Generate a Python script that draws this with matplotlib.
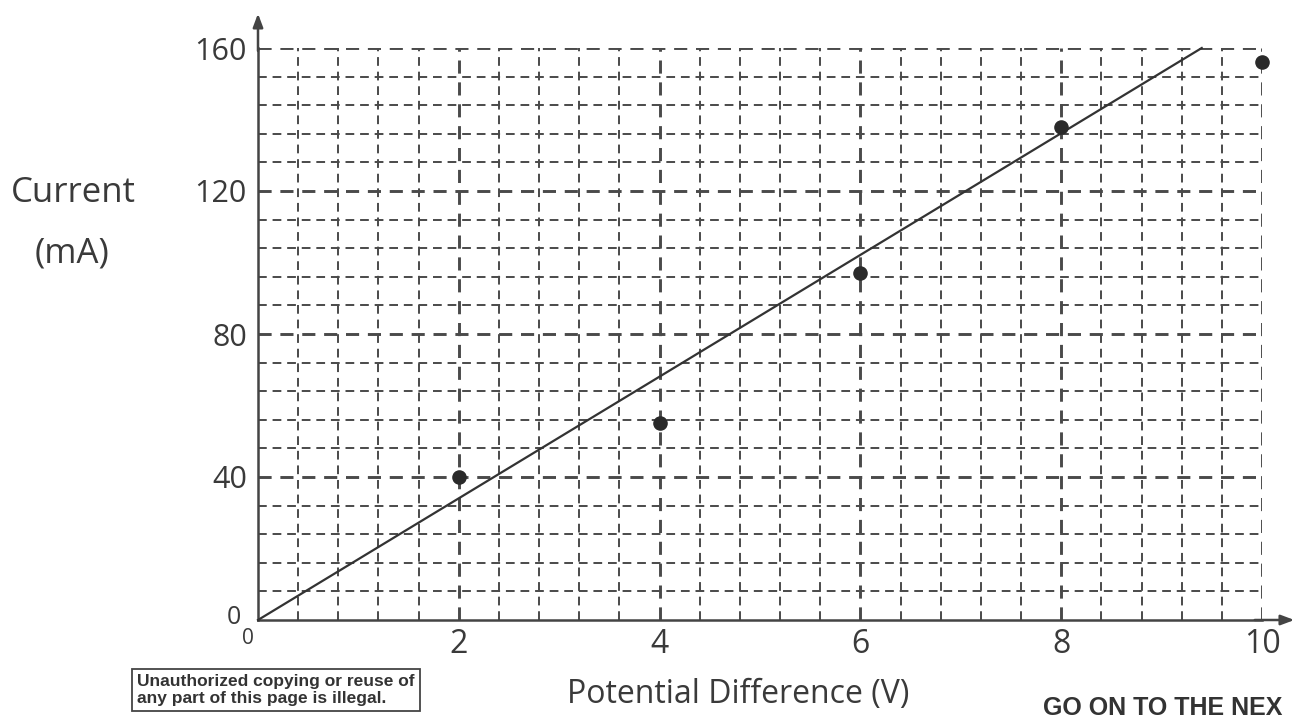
import numpy as np
import matplotlib
matplotlib.use("Agg")
import matplotlib.pyplot as plt

# ---- data ----
voltage = [2, 4, 6, 8, 10]
current = [40, 55, 97, 138, 156]
fit_x = [0, 9.4]
fit_y = [0, 160]
x_ticks = [2, 4, 6, 8, 10]
x_tick_labels = ["2", "4", "6", "8", "10"]
y_ticks = [40, 80, 120, 160]
y_tick_labels = ["40", "80", "120", "160"]

W, H = 1297, 722
fig = plt.figure(figsize=(W / 100, H / 100), dpi=100)
fig.patch.set_facecolor("white")

x0, x1 = 258, 1262
y0, y1 = 620, 48
ax = fig.add_axes([x0 / W, 1 - y0 / H, (x1 - x0) / W, (y0 - y1) / H])
ax.set_xlim(0, 10)
ax.set_ylim(0, 160)
ax.set_facecolor("white")

hand = dict(family=["Open Sans", "DejaVu Sans"], color="#3a3a3a")

# grid
gc = "#4a4a4a"
dash = (0, (4.5, 3))
for v in np.arange(0.4, 10.001, 0.4):
    major = abs(v / 2 - round(v / 2)) < 1e-6
    ax.axvline(v, color=gc, lw=2.1 if major else 1.4, ls=dash, zorder=1)
for v in np.arange(8, 160.001, 8):
    major = abs(v / 40 - round(v / 40)) < 1e-6
    ax.axhline(v, color=gc, lw=2.1 if major else 1.4, ls=dash, zorder=1)

for s in ["top", "right"]:
    ax.spines[s].set_visible(False)
for s in ["left", "bottom"]:
    ax.spines[s].set_color("#444444")
    ax.spines[s].set_linewidth(1.8)

# arrows on axes
ax.annotate("", xy=(0, 1.065), xytext=(0, 0.99), xycoords="axes fraction",
            arrowprops=dict(arrowstyle="-|>,head_length=0.8,head_width=0.3",
                            color="#444444", lw=1.8), annotation_clip=False)
ax.annotate("", xy=(1.035, 0), xytext=(0.99, 0), xycoords="axes fraction",
            arrowprops=dict(arrowstyle="-|>,head_length=0.8,head_width=0.3",
                            color="#444444", lw=1.8), annotation_clip=False)

# fit line and points
ax.plot(fit_x, fit_y, color="#333333", lw=1.6, zorder=3, clip_on=False)
ax.scatter(voltage, current, s=90, color="#2a2a2a", zorder=4, clip_on=False)

# ticks
ax.set_xticks(x_ticks)
ax.set_xticklabels(x_tick_labels, fontsize=23, **hand)
ax.set_yticks(y_ticks)
ax.set_yticklabels(y_tick_labels, fontsize=22, **hand)
ax.tick_params(axis="both", length=0)
ax.tick_params(axis="x", pad=6)
ax.tick_params(axis="y", pad=8)

# origin zeros
fig.text(234 / W, 1 - 617 / H, "0", fontsize=18, ha="center", va="center", **hand)
fig.text(248 / W, 1 - 639 / H, "0", fontsize=15, ha="center", va="center", **hand)

# axis labels
fig.text(73 / W, 1 - 193 / H, "Current", fontsize=25, ha="center", va="center", **hand)
fig.text(72 / W, 1 - 253 / H, "(mA)", fontsize=25, ha="center", va="center", **hand)
fig.text(738 / W, 1 - 695 / H, "Potential Difference (V)", fontsize=23,
         ha="center", va="center", **hand)

# boxed notice
fig.text(137 / W, 1 - 690 / H,
         "Unauthorized copying or reuse of\nany part of this page is illegal.",
         fontsize=12.5, fontweight="bold", family="Liberation Sans", color="#333333",
         ha="left", va="center", linespacing=1.12,
         bbox=dict(boxstyle="square,pad=0.3", fc="white", ec="#444444", lw=1.3))

fig.text(1043 / W, 1 - 708 / H, "GO ON TO THE NEX", fontsize=18,
         fontweight="bold", family="Liberation Sans", color="#333333",
         ha="left", va="center")

fig.savefig("out.png", dpi=100, facecolor="white")
